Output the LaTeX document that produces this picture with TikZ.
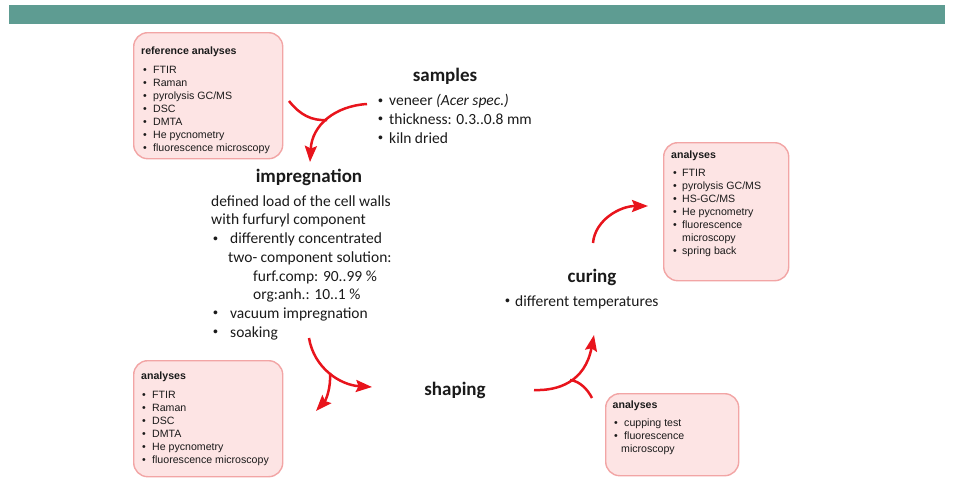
\documentclass[tikz,border=0pt]{standalone}
\usepackage{fontspec}
\setmainfont{Carlito}
\newfontfamily\arialfont{Liberation Sans}
\usetikzlibrary{arrows.meta}
\definecolor{barcol}{HTML}{5E9C92}
\definecolor{boxfill}{HTML}{FDE4E4}
\definecolor{boxline}{HTML}{F2A5A5}
\definecolor{arrowred}{HTML}{E8141C}
\definecolor{txt}{HTML}{1A1A1A}
\newcommand{\bul}[1]{\makebox[#1][l]{•}}
\newcommand{\sbul}[1]{\makebox[#1][l]{{\arialfont\raisebox{0.5pt}{\scalebox{0.9}{•}}}}}
\tikzset{
  abox/.style={draw=boxline, fill=boxfill, line width=1.4pt, rounded corners=14pt, inner sep=0pt, anchor=north west},
  boxtext/.style={font=\arialfont\fontsize{10.6}{13}\selectfont, text=txt, align=left, inner sep=0pt, anchor=north west},
  bodytext/.style={font=\fontsize{15.5}{18.7}\selectfont, text=txt, align=left, inner sep=0pt, anchor=north west},
  heading/.style={font=\bfseries\fontsize{19}{22}\selectfont, text=txt, inner sep=0pt, anchor=base},
  redline/.style={draw=arrowred, line width=2.5pt},
  redarrow/.style={redline, -{Stealth[length=16pt,width=12pt,inset=2.5pt]}}
}
\begin{document}
\begin{tikzpicture}[x=1pt,y=-1pt]
\useasboundingbox (0,0) rectangle (954,479);
\fill[barcol] (9,5) rectangle (945,24);

% analysis boxes
\node[abox, minimum width=149pt, minimum height=126pt] (refbox) at (133,32) {};
\node[boxtext] (reftext) at (141,44.5) {\rule{0pt}{10pt}\textbf{reference analyses}\\[5.5pt]
\hspace*{2pt}\bul{10pt}FTIR\\
\hspace*{2pt}\bul{10pt}Raman\\
\hspace*{2pt}\bul{10pt}pyrolysis GC/MS\\
\hspace*{2pt}\bul{10pt}DSC\\
\hspace*{2pt}\bul{10pt}DMTA\\
\hspace*{2pt}\bul{10pt}He pycnometry\\
\hspace*{2pt}\bul{10pt}fluorescence microscopy};

\node[abox, minimum width=149pt, minimum height=116pt] (impbox) at (133,360) {};
\node[boxtext] (imptext) at (141,369.5) {\rule{0pt}{10pt}\textbf{analyses}\\[5.5pt]
\hspace*{1pt}\bul{10pt}FTIR\\
\hspace*{1pt}\bul{10pt}Raman\\
\hspace*{1pt}\bul{10pt}DSC\\
\hspace*{1pt}\bul{10pt}DMTA\\
\hspace*{1pt}\bul{10pt}He pycnometry\\
\hspace*{1pt}\bul{10pt}fluorescence microscopy};

\node[abox, minimum width=125pt, minimum height=138pt] (curbox) at (663,142) {};
\node[boxtext] (curtext) at (671,148) {\rule{0pt}{10pt}\textbf{analyses}\\[5.5pt]
\hspace*{2pt}\bul{9pt}FTIR\\
\hspace*{2pt}\bul{9pt}pyrolysis GC/MS\\
\hspace*{2pt}\bul{9pt}HS-GC/MS\\
\hspace*{2pt}\bul{9pt}He pycnometry\\
\hspace*{2pt}\bul{9pt}fluorescence\\
\hspace*{11pt}microscopy\\
\hspace*{2pt}\bul{9pt}spring back};

\node[abox, minimum width=133pt, minimum height=82pt] (shpbox) at (605,393) {};
\node[boxtext] (shptext) at (612.5,398) {\rule{0pt}{10pt}\textbf{analyses}\\[5pt]
\hspace*{1.5pt}\bul{10pt}cupping test\\
\hspace*{1.5pt}\bul{10pt}fluorescence\\
\hspace*{8.5pt}microscopy};

% process steps
\node[heading] (samples) at (445,81) {samples};
\node[bodytext] (samptext) at (378,91.5) {\rule{0pt}{14pt}\sbul{11pt}veneer \textit{(Acer spec.)}\\
\sbul{11pt}thickness: 0.3..0.8 mm\\
\sbul{11pt}kiln dried};

\node[heading] (impreg) at (309,182) {impregnation};
\node[bodytext] (impregtext) at (211,192) {\rule{0pt}{14pt}defined load of the cell walls\\
with furfuryl component\\
\hspace*{2pt}\sbul{17pt}differently concentrated\\
\hspace*{17pt}two- component solution:\\
\hspace*{42pt}furf.comp: 90..99 \%\\
\hspace*{42pt}org:anh.: 10..1 \%\\
\hspace*{2pt}\sbul{17pt}vacuum impregnation\\
\hspace*{2pt}\sbul{17pt}soaking};

\node[heading] (shaping) at (455,395) {shaping};

\node[heading] (curing) at (592,282) {curing};
\node[bodytext, anchor=base west] (curtext2) at (505,306) {\sbul{10pt}different temperatures};

% arrows
\coordinate (a1s) at (367,104);
\coordinate (a1j) at (327,120);
\coordinate (a1b) at (289,101);
\coordinate (a1e) at (310,162);
\draw[redarrow] (a1s) .. controls (335,106) and (312,125) .. (a1e);
\draw[redline] (a1b) .. controls (300,115) and (312,121) .. (a1j);

\coordinate (a2s) at (309,338);
\coordinate (a2j) at (330,373);
\coordinate (a2e) at (372,387);
\coordinate (a2b) at (316,411);
\draw[redarrow] (a2s) .. controls (314,368) and (340,385) .. (a2e);
\draw[redarrow] (a2j) .. controls (331,388) and (326,400) .. (a2b);

\coordinate (a3s) at (534,390);
\coordinate (a3j) at (570,380);
\coordinate (a3e) at (594,335);
\coordinate (a3b) at (592,398);
\draw[redarrow] (a3s) .. controls (558,391) and (585,382) .. (a3e);
\draw[redline] (a3j) .. controls (580,381) and (588,390) .. (a3b);

\coordinate (a4s) at (593,243);
\coordinate (a4e) at (648,206);
\draw[redarrow] (a4s) .. controls (595,220) and (620,206) .. (a4e);
\end{tikzpicture}
\end{document}
